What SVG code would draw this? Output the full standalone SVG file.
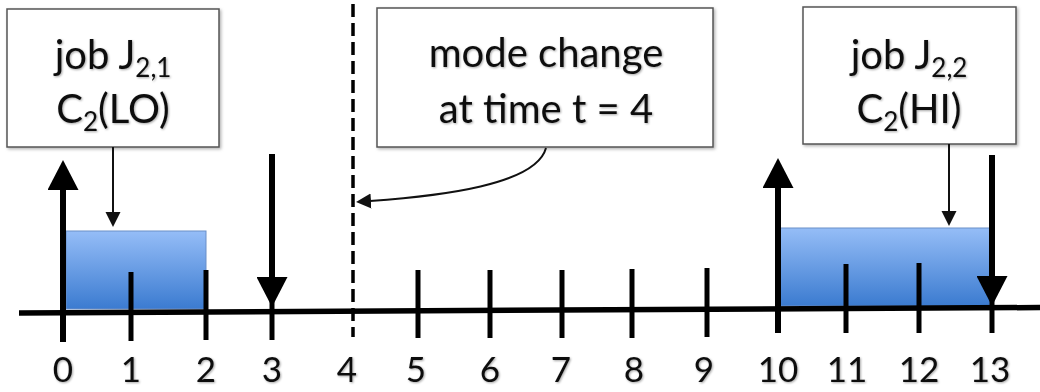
<svg xmlns="http://www.w3.org/2000/svg" width="1040" height="392" viewBox="0 0 1040 392">
<defs>
<style>
.lbl{font-family:Lato,"Liberation Sans",sans-serif;fill:#111;}
.box{fill:#fff;stroke:#555;stroke-width:1.5;}
.t{font-size:40px;text-anchor:middle;}
.num{font-size:35px;text-anchor:middle;}
.tick{stroke:#000;stroke-width:5;}
.big{stroke:#000;stroke-width:6;}
.thin{stroke:#111;stroke-width:2;fill:none;}
.job{fill:url(#blue);stroke:#6a8fc8;stroke-width:1;}
</style>
<linearGradient id="blue" x1="0" y1="0" x2="0" y2="1">
<stop offset="0" stop-color="#95bdf7"/>
<stop offset="1" stop-color="#3b7bd0"/>
</linearGradient>
<filter id="sh" x="-10%" y="-10%" width="130%" height="130%">
<feDropShadow dx="1.5" dy="1.5" stdDeviation="1.5" flood-color="#000" flood-opacity="0.3"/>
</filter>
<filter id="tsh" x="-10%" y="-10%" width="130%" height="130%">
<feDropShadow dx="1" dy="1" stdDeviation="0.8" flood-color="#000" flood-opacity="0.35"/>
</filter>
<marker id="bigHead" markerUnits="userSpaceOnUse" markerWidth="31" markerHeight="31" refX="0" refY="15.5" orient="auto">
<path d="M0,0 L30,15.5 L0,31 Z" fill="#000"/>
</marker>
<marker id="smallHead" markerUnits="userSpaceOnUse" markerWidth="16" markerHeight="16" refX="1" refY="8" orient="auto">
<path d="M0,0.5 L15,8 L0,15.5 Z" fill="#111"/>
</marker>
</defs>
<rect width="1040" height="392" fill="#fff"/>

<g id="jobs">
<rect class="job" x="66" y="231" width="140" height="78"/>
<rect class="job" x="780" y="228" width="210" height="78"/>
</g>

<g id="axis">
<line x1="19" y1="313" x2="1040" y2="307.5" stroke="#000" stroke-width="5.5"/>
<line class="tick" x1="131" y1="272" x2="131" y2="341"/>
<line class="tick" x1="206" y1="270" x2="206" y2="340"/>
<line class="tick" x1="272" y1="290" x2="272" y2="340"/>
<line x1="353" y1="4" x2="353" y2="337" stroke="#000" stroke-width="3.5" stroke-dasharray="13 6"/>
<line class="tick" x1="418" y1="270" x2="418" y2="338"/>
<line class="tick" x1="490" y1="270" x2="490" y2="338"/>
<line class="tick" x1="562" y1="270" x2="562" y2="338"/>
<line class="tick" x1="632" y1="269" x2="632" y2="338"/>
<line class="tick" x1="707" y1="268" x2="707" y2="337"/>
<line class="tick" x1="846" y1="264" x2="846" y2="333"/>
<line class="tick" x1="919" y1="263" x2="919" y2="333"/>
<line class="tick" x1="992" y1="290" x2="992" y2="333"/>
</g>

<g id="labels" class="lbl num" filter="url(#tsh)">
<text x="63" y="382">0</text>
<text x="131" y="382">1</text>
<text x="206" y="382">2</text>
<text x="272" y="382">3</text>
<text x="347" y="382">4</text>
<text x="416" y="382">5</text>
<text x="490" y="382">6</text>
<text x="561" y="382">7</text>
<text x="634" y="382">8</text>
<text x="704" y="382">9</text>
<text x="778" y="382">10</text>
<text x="847" y="382">11</text>
<text x="919" y="382">12</text>
<text x="990" y="382">13</text>
</g>

<g id="node-job21">
<rect class="box" x="7" y="9" width="212" height="138" filter="url(#sh)"/>
<g filter="url(#tsh)">
<text class="lbl t" x="113" y="69">job J<tspan font-size="26" dy="8">2,1</tspan></text>
<text class="lbl t" x="113" y="123">C<tspan font-size="26" dy="8">2</tspan><tspan dy="-8">(LO)</tspan></text>
</g>
</g>

<g id="node-modechange">
<rect class="box" x="377" y="8" width="336" height="139" filter="url(#sh)"/>
<g filter="url(#tsh)">
<text class="lbl t" x="546" y="67">mode change</text>
<text class="lbl t" x="546" y="123">at time t = 4</text>
</g>
</g>

<g id="node-job22">
<rect class="box" x="803" y="7" width="213" height="137" filter="url(#sh)"/>
<g filter="url(#tsh)">
<text class="lbl t" x="909" y="69">job J<tspan font-size="26" dy="8">2,2</tspan></text>
<text class="lbl t" x="909" y="123">C<tspan font-size="26" dy="8">2</tspan><tspan dy="-8">(HI)</tspan></text>
</g>
</g>

<g id="connectors">
<line class="big" x1="63" y1="342" x2="63" y2="190" marker-end="url(#bigHead)"/>
<line class="big" x1="272" y1="154" x2="272" y2="277" marker-end="url(#bigHead)"/>
<line class="big" x1="778" y1="333" x2="778" y2="188" marker-end="url(#bigHead)"/>
<line class="big" x1="992" y1="155" x2="992" y2="276" marker-end="url(#bigHead)"/>
<line class="thin" x1="113" y1="147" x2="113" y2="213" marker-end="url(#smallHead)"/>
<line class="thin" x1="949" y1="144" x2="949" y2="212" marker-end="url(#smallHead)"/>
<path class="thin" d="M546,148 C536,185 440,196 370,201" stroke-width="2.5" marker-end="url(#smallHead)"/>
</g>
</svg>
